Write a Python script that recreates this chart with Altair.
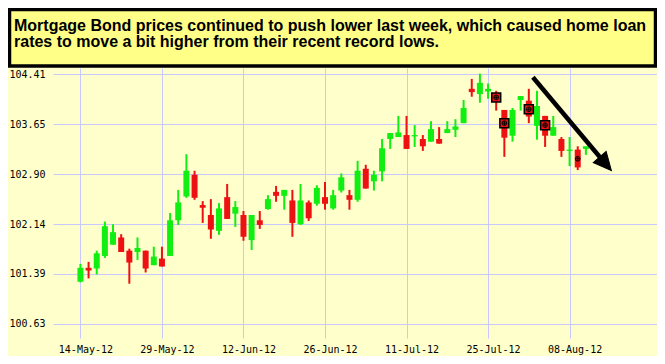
import altair as alt
import pandas as pd

# ---- data; x = trading-day index from 14-May-12 ----
opens  = [101.27, 101.48, 101.47, 101.66, 101.83, 101.94, 101.74, 101.72, 101.74, 101.52,
          101.62, 101.66, 102.20, 102.56, 102.89, 102.43, 102.28, 102.04, 102.55, 102.30,
          102.28, 101.90, 102.20, 102.37, 102.63, 102.57, 102.50, 102.14, 102.47, 102.45,
          102.55, 102.38, 102.65, 102.58, 102.51, 102.98, 102.79, 102.94, 103.43, 103.46,
          103.49, 103.47, 103.43, 103.39, 103.43, 103.52, 103.57, 103.67, 104.19, 104.11,
          104.15, 104.11, 103.87, 103.48, 104.02, 104.01, 103.63, 103.78, 103.48, 103.43,
          103.25, 103.27, 103.28]
highs  = [101.54, 101.57, 101.74, 102.18, 102.14, 101.99, 101.77, 101.94, 101.74, 101.80,
          101.80, 102.31, 102.66, 103.20, 102.95, 102.49, 102.52, 102.46, 102.75, 102.49,
          102.34, 102.28, 102.34, 102.58, 102.72, 102.66, 102.66, 102.75, 102.50, 102.73,
          102.78, 102.66, 102.91, 102.66, 103.10, 103.04, 102.95, 103.43, 103.52, 103.78,
          103.78, 103.64, 103.49, 103.70, 103.61, 103.70, 103.73, 104.02, 104.34, 104.42,
          104.27, 104.16, 103.87, 103.90, 104.08, 104.19, 104.16, 103.78, 103.78, 103.46,
          103.46, 103.32, 103.32]
lows   = [101.26, 101.32, 101.38, 101.63, 101.83, 101.72, 101.24, 101.60, 101.41, 101.52,
          101.50, 101.66, 102.13, 102.54, 102.51, 102.16, 101.92, 101.98, 102.22, 102.10,
          101.89, 101.75, 102.07, 102.36, 102.48, 102.36, 101.95, 102.13, 102.19, 102.42,
          102.36, 102.36, 102.62, 102.36, 102.48, 102.68, 102.65, 102.79, 103.28, 103.46,
          103.28, 103.31, 103.25, 103.39, 103.36, 103.52, 103.46, 103.67, 104.07, 103.98,
          104.04, 103.86, 103.16, 103.39, 103.86, 103.67, 103.42, 103.31, 103.48, 103.16,
          103.02, 102.96, 103.19]
closes = [101.48, 101.44, 101.70, 102.11, 102.02, 101.72, 101.56, 101.78, 101.47, 101.65,
          101.50, 102.20, 102.47, 102.95, 102.54, 102.39, 102.06, 102.38, 102.22, 102.40,
          101.95, 102.28, 102.13, 102.52, 102.57, 102.66, 102.16, 102.50, 102.23, 102.69,
          102.45, 102.58, 102.85, 102.51, 102.95, 102.68, 102.89, 103.29, 103.52, 103.53,
          103.28, 103.49, 103.32, 103.58, 103.36, 103.58, 103.62, 103.90, 104.14, 104.28,
          104.19, 104.00, 103.45, 103.87, 104.08, 103.77, 103.93, 103.48, 103.61, 103.25,
          103.27, 103.00, 103.32]

tick_idx = [0, 10, 20, 30, 40, 50, 60]
tick_labels = ["14-May-12", "29-May-12", "12-Jun-12", "26-Jun-12", "11-Jul-12", "25-Jul-12", "08-Aug-12"]
y_ticks = [100.63, 101.39, 102.14, 102.90, 103.65, 104.41]

marker_idx = [51, 52, 55, 57, 61]
marker_val = [104.06, 103.67, 103.88, 103.64, 103.13]
marker_box = [True, True, True, True, False]

arrow_start = (55.50, 104.365)
arrow_end = (63.94, 103.123)
arrow_tip = (65.13, 102.951)

note_lines = ["Mortgage Bond prices continued to push lower last week, which caused home loan",
              "rates to move a bit higher from their recent record lows."]

GREEN = "#11EE11"
RED = "#EE1111"

df = pd.DataFrame({
    "i": list(range(len(opens))),
    "open": opens, "high": highs, "low": lows, "close": closes,
})
df["dir"] = ["up" if c >= o else "down" for o, c in zip(opens, closes)]

mk = pd.DataFrame({"i": marker_idx, "v": marker_val, "box": marker_box})
arr = pd.DataFrame({"x": [arrow_start[0]], "y": [arrow_start[1]],
                    "x2": [arrow_end[0]], "y2": [arrow_end[1]]})
tip = pd.DataFrame({"x": [arrow_tip[0]], "y": [arrow_tip[1]]})
note = pd.DataFrame({"t": ["\n".join(note_lines)]})

W, H = 604, 270
xs = alt.Scale(domain=[-2.75, 70.11], nice=False, zero=False)
ys = alt.Scale(domain=[100.418, 104.505], nice=False, zero=False)

label_arr = "[" + ",".join("'%s'" % s for s in tick_labels) + "]"
xaxis = alt.Axis(values=tick_idx, labelExpr=label_arr + "[round(datum.value/10)]",
                 title=None, grid=True, gridColor="#C8C8FF", ticks=False, domain=False,
                 labelFont="DejaVu Sans Mono", labelFontSize=10, labelColor="#000000",
                 labelPadding=6, labelOffset=5)
yaxis = alt.Axis(values=y_ticks, format=".2f", title=None, grid=True, gridColor="#C8C8FF",
                 ticks=False, domain=False, labelFont="DejaVu Sans Mono", labelFontSize=10,
                 labelColor="#000000", labelPadding=8)

color = alt.Color("dir:N", scale=alt.Scale(domain=["up", "down"], range=[GREEN, RED]), legend=None)

base = alt.Chart(df)
wick = base.mark_rule(strokeWidth=2).encode(
    x=alt.X("i:Q", scale=xs, axis=xaxis),
    y=alt.Y("low:Q", scale=ys, axis=yaxis),
    y2="high:Q",
    color=color,
)
body = base.mark_bar(size=6).encode(
    x=alt.X("i:Q", scale=xs),
    y=alt.Y("open:Q", scale=ys),
    y2="close:Q",
    color=color,
)

mbox = alt.Chart(mk).transform_filter("datum.box").mark_point(
    shape="square", size=81, filled=True, fill=RED, stroke="#000000", strokeWidth=1.5, opacity=1
).encode(x=alt.X("i:Q", scale=xs), y=alt.Y("v:Q", scale=ys))
mcirc = alt.Chart(mk).mark_point(
    shape="circle", size=22, filled=False, stroke="#000000", strokeWidth=1, opacity=1
).encode(x=alt.X("i:Q", scale=xs), y=alt.Y("v:Q", scale=ys))
mcross = alt.Chart(mk).mark_point(
    shape="M-1,0L1,0M0,-1L0,1", size=16, filled=False, stroke="#000000", strokeWidth=1, opacity=1
).encode(x=alt.X("i:Q", scale=xs), y=alt.Y("v:Q", scale=ys))

aline = alt.Chart(arr).mark_rule(strokeWidth=4.5, color="#000000").encode(
    x=alt.X("x:Q", scale=xs), y=alt.Y("y:Q", scale=ys), x2="x2:Q", y2="y2:Q")
ahead = alt.Chart(tip).mark_point(
    shape="M0,0L0.85,1.8L-0.85,1.8Z", size=400, filled=True, fill="#000000",
    stroke="#000000", strokeWidth=1, opacity=1, angle=139.4
).encode(x=alt.X("x:Q", scale=xs), y=alt.Y("y:Q", scale=ys))

box = alt.Chart(note).mark_rect(fill="#FFFF88", stroke="#000000", strokeWidth=3.5).encode(
    x=alt.value(-43.5), x2=alt.value(W - 1.5), y=alt.value(-58.5), y2=alt.value(-2))
txt = alt.Chart(note).mark_text(
    align="left", baseline="alphabetic", font="Liberation Sans", fontWeight="bold",
    fontSize=16, lineHeight=16, lineBreak="\n", color="#000000"
).encode(text="t:N", x=alt.value(-39), y=alt.value(-37.3))

chart = alt.layer(wick, body, mbox, mcirc, mcross, aline, ahead, box, txt).properties(
    width=W, height=H,
    padding={"left": 45, "top": 60, "right": 0, "bottom": 18},
    autosize=alt.AutoSizeParams(type="none"),
).configure(background="#FFFFCC").configure_view(stroke=None)

chart.save("out.html", embed_options={"renderer": "svg", "actions": False})
